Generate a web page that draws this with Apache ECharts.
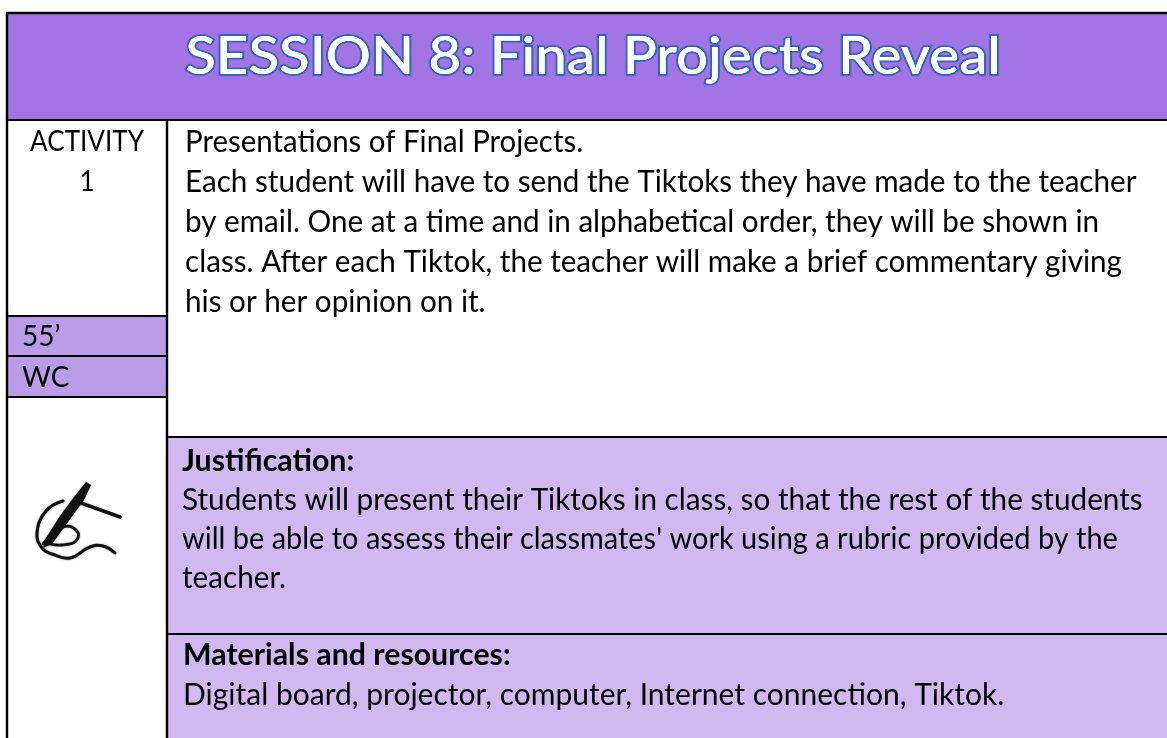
<!DOCTYPE html>
<html><head><meta charset="utf-8">
<style>html,body{margin:0;padding:0;background:#fff}#c{width:1167px;height:738px}</style>
<script src="https://cdn.jsdelivr.net/npm/echarts@6/dist/echarts.min.js"></script>
</head><body><div id="c"></div>
<script>
const titleText = "SESSION 8: Final Projects Reveal";
const sideHeader = ["ACTIVITY", "1"];
const sideRows = ["55’", "WC"];
const bodyLines = [
  "Presentations of Final Projects.",
  "Each student will have to send the Tiktoks they have made to the teacher",
  "by email. One at a time and in alphabetical order, they will be shown in",
  "class. After each Tiktok, the teacher will make a brief commentary giving",
  "his or her opinion on it."
];
const justHead = "Justification:";
const justLines = [
  "Students will present their Tiktoks in class, so that the rest of the students",
  "will be able to assess their classmates' work using a rubric provided by the",
  "teacher."
];
const matHead = "Materials and resources:";
const matLines = ["Digital board, projector, computer, Internet connection, Tiktok."];

const chart = echarts.init(document.getElementById('c'), null, {renderer:'canvas'});
const F = 'Lato', SX = 0.988, FS = 30;
const K = '#000';
const rect=(x,y,w,h,fill)=>({type:'rect',shape:{x,y,width:w,height:h},style:{fill},silent:true});
const line=(x1,y1,x2,y2,lw=2.2)=>({type:'line',shape:{x1,y1,x2,y2},style:{stroke:K,lineWidth:lw},silent:true,z:5});
const txt=(s,x,y,o={})=>({type:'text',x,y,scaleX:o.sx||SX,z:6,silent:true,style:{text:s,fill:K,font:`${o.w||'normal'} ${o.fs||FS}px ${F}`,textAlign:o.align||'left',textVerticalAlign:'middle'}});
const els=[
  rect(7,13,1160,107,'#a374e4'),
  rect(7,316,160,40,'#bb9ce9'),
  rect(7,356,160,41,'#bb9ce9'),
  rect(168,437,999,197,'#d1b8f1'),
  rect(168,634,999,104,'#d1b8f1'),
  line(6,13,1167,13,2.4),
  line(6,120,1167,120,2),
  line(7,13,7,738,2.4),
  line(167,120,167,738,2.4),
  line(7,316,167,316),line(7,356,167,356),line(7,397,167,397),
  line(167,437,1167,437),line(167,634,1167,634),
];
// title
els.push({type:'text',x:593,y:57,scaleX:1.085,z:6,silent:true,style:{text:titleText,font:`500 52px ${F}`,fill:'#fff',stroke:'#3566b8',lineWidth:4,textAlign:'center',textVerticalAlign:'middle',shadowBlur:4,shadowColor:'rgba(60,110,200,0.9)'}});
els.push({type:'text',x:593,y:57,scaleX:1.085,z:7,silent:true,style:{text:titleText,font:`500 52px ${F}`,fill:'#fff',textAlign:'center',textVerticalAlign:'middle'}});
// side
sideHeader.forEach((s,i)=>els.push(txt(s,87,142+i*40,{align:'center',fs:28,sx:0.93})));
sideRows.forEach((s,i)=>els.push(txt(s,22,337+i*41,{fs:28,sx:1})));
// body
bodyLines.forEach((s,i)=>els.push(txt(s,185,142+i*40,{sx:i==0?0.98:SX})));
els.push(txt(justHead,182,461,{w:'bold',sx:1.01}));
justLines.forEach((s,i)=>els.push(txt(s,182,500+i*39,{sx:i==1?0.965:0.99})));
els.push(txt(matHead,183,655,{w:'bold',sx:1.01}));
matLines.forEach((s,i)=>els.push(txt(s,183,695+i*39,{sx:1})));
// handwriting icon
const pen=(pts,lw)=>({type:'polyline',shape:{points:pts,smooth:0.45},style:{fill:'none',stroke:'#111',lineWidth:lw,lineCap:'round',lineJoin:'round',shadowBlur:2,shadowColor:'rgba(0,0,0,0.5)'},silent:true,z:6});
els.push(
  {type:'polygon',shape:{points:[[86,482],[91,485],[84,500],[52,544],[43,548],[46,538],[60,516],[74,497]]},style:{fill:'#111',shadowBlur:2,shadowColor:'rgba(0,0,0,.5)'},silent:true,z:6},
  {type:'line',shape:{x1:81,y1:503,x2:120,y2:517},style:{stroke:'#111',lineWidth:3.6,lineCap:'round'},silent:true,z:6},
  pen([[63,501],[46,511],[37,533],[42,548],[52,554],[70,558],[90,547],[103,546],[115,553]],3),
  pen([[43,544],[63,527],[77,531],[76,541],[62,545],[50,544]],2.8)
);
chart.setOption({animation:false,backgroundColor:'#fff',graphic:{elements:els}});
</script></body></html>
